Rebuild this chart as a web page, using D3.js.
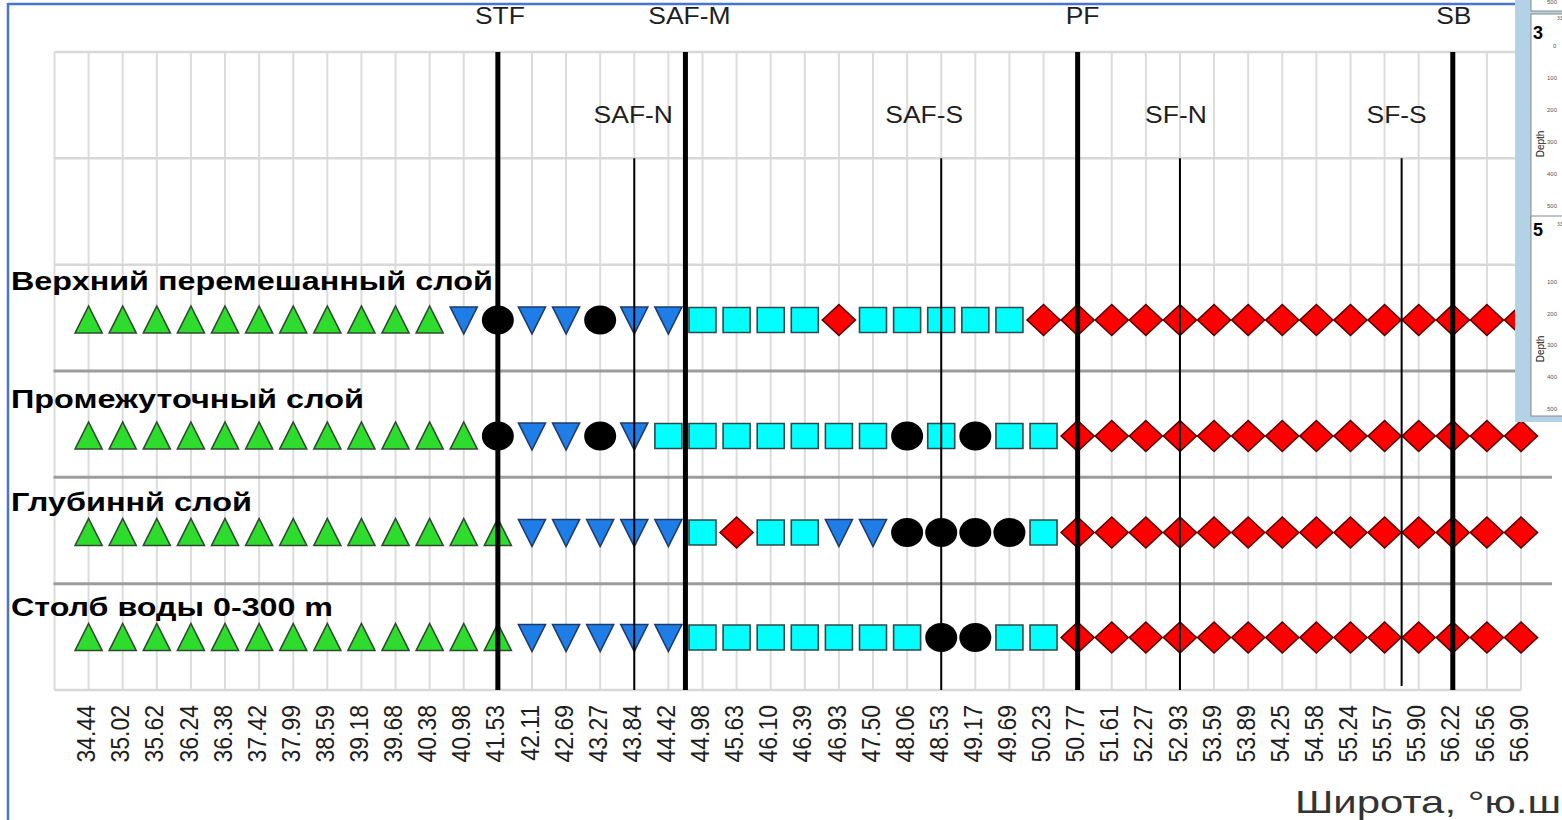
<!DOCTYPE html>
<html><head><meta charset="utf-8">
<script src="https://cdn.jsdelivr.net/npm/d3@7"></script>
<style>
body{margin:0;background:#fff;}
svg{display:block;font-family:"Liberation Sans",Arial,Helvetica,sans-serif;}
</style>
</head><body>
<svg id="chart" width="1562" height="820"></svg>
<script>
// ---------------- data ----------------
const stations = ["34.44","35.02","35.62","36.24","36.38","37.42","37.99","38.59","39.18","39.68",
  "40.38","40.98","41.53","42.11","42.69","43.27","43.84","44.42","44.98","45.63","46.10","46.39",
  "46.93","47.50","48.06","48.53","49.17","49.69","50.23","50.77","51.61","52.27","52.93","53.59",
  "53.89","54.25","54.58","55.24","55.57","55.90","56.22","56.56","56.90"];

const layers = ["Верхний перемешанный слой","Промежуточный слой","Глубиннй слой","Столб воды 0-300 m"];

// water-mass class per station: T = subtropical (green ▲), V = blue ▼, C = black ●, S = cyan ■, D = red ◆
const upperMixedLayer   = ("TTTTTTTTTTT"  + "VCVVCVV" + "SSSS" + "D" + "SSSSS" + "DDDDDDDDDDDDDDD").split("");
const intermediateLayer = ("TTTTTTTTTTTT" + "CVVCV" + "SSSSSSS" + "CSCSS" + "DDDDDDDDDDDDDD").split("");
const deepLayer         = ("TTTTTTTTTTTTT" + "VVVVV" + "SDSS" + "VV" + "CCCC" + "S" + "DDDDDDDDDDDDDD").split("");
const waterColumn0300   = ("TTTTTTTTTTTTT" + "VVVVV" + "SSSSSSS" + "CC" + "SS" + "DDDDDDDDDDDDDD").split("");
const layerValues = [upperMixedLayer, intermediateLayer, deepLayer, waterColumn0300];

const frontNames     = ["STF","SAF-N","SAF-M","SAF-S","PF","SF-N","SF-S","SB"];
const frontStationIx = [12, 16, 17.5, 25, 29, 32, 38.5, 40];
const frontMajor     = [true, false, true, false, true, false, false, true];

const axisTitle = "Широта, °ю.ш";

// ---------------- layout / style ----------------
const W = 1562, H = 820;
const svg = d3.select("#chart");
const plotTop = 52, plotBottom = 690;
const font = '"Liberation Sans",Arial,Helvetica,sans-serif';

const x = d3.scalePoint().domain(stations).range([88.6, 1521]);
const step = x.step();
const xi = d3.scaleLinear().domain([0, stations.length - 1]).range(x.range());
const yGrid = d3.scaleLinear().domain([0, 6]).range([plotTop, plotBottom]);
const yRow = d3.scaleOrdinal().domain(layers).range([320, 436, 532.5, 637.5]);
const labelBase = d3.scaleOrdinal().domain(layers).range([290, 408, 511, 616]);
const labelLen = d3.scaleOrdinal().domain(layers).range([482, 353, 241, 322]);

// ---------------- grid ----------------
const g = svg.append("g");
const gridIdx = d3.range(-1, stations.length);
g.selectAll("line.vg").data(gridIdx).join("line")
  .attr("x1", d => xi(d)).attr("x2", d => xi(d))
  .attr("y1", plotTop).attr("y2", plotBottom)
  .attr("stroke", "#dcdcdc").attr("stroke-width", 2);

g.selectAll("line.hg").data([0, 1, 2, 6]).join("line")
  .attr("x1", xi(-1)).attr("x2", xi(stations.length - 1))
  .attr("y1", d => yGrid(d)).attr("y2", d => yGrid(d))
  .attr("stroke", "#d8d8d8").attr("stroke-width", 2.5);

g.selectAll("line.sep").data([3, 4, 5]).join("line")
  .attr("x1", xi(-1) - 1).attr("x2", 1552)
  .attr("y1", d => yGrid(d)).attr("y2", d => yGrid(d))
  .attr("stroke", "#9c9c9c").attr("stroke-width", 3);

// ---------------- markers ----------------
const shapes = {
  T: {path: "M0,-14L13.5,13L-13.5,13Z", fill: "#2ddc2d", stroke: "#2f4a2f"},
  V: {path: "M-13.5,-13L13.5,-13L0,14Z", fill: "#1f7de8", stroke: "#1f3a66"},
  S: {path: "M-13.5,-12.5H13.5V12.5H-13.5Z", fill: "#00ffff", stroke: "#2f4a4a"},
  D: {path: "M0,-15.5L16.5,0L0,15.5L-16.5,0Z", fill: "#ff0000", stroke: "#5a0000"},
  C: {ellipse: true, fill: "#000000", stroke: "#000000"}
};
const pts = [];
layers.forEach((L, li) => layerValues[li].forEach((c, si) => pts.push({layer: L, st: stations[si], c})));

const mg = svg.append("g");
mg.selectAll("g.m").data(pts).join("g")
  .attr("transform", d => `translate(${x(d.st)},${yRow(d.layer)})`)
  .each(function(d) {
    const s = shapes[d.c];
    const sel = d3.select(this);
    if (s.ellipse) {
      sel.append("ellipse").attr("rx", 16).attr("ry", 14.5).attr("fill", s.fill);
    } else {
      sel.append("path").attr("d", s.path).attr("fill", s.fill)
        .attr("stroke", s.stroke).attr("stroke-width", 1.6).attr("stroke-linejoin", "miter");
    }
  });

// ---------------- fronts ----------------
const fronts = frontNames.map((n, i) => ({name: n, pos: frontStationIx[i], major: frontMajor[i]}));
const labelShift = {"STF": 2, "SAF-N": -1, "SAF-M": 4, "SAF-S": -17, "PF": 5, "SF-N": -4, "SF-S": -5, "SB": 1};
const fg = svg.append("g");
fg.selectAll("line.front").data(fronts).join("line")
  .attr("x1", d => xi(d.pos)).attr("x2", d => xi(d.pos))
  .attr("y1", d => d.major ? plotTop : yGrid(1))
  .attr("y2", d => d.name === "SF-S" ? plotBottom - 4 : plotBottom)
  .attr("stroke", "#000").attr("stroke-width", d => d.major ? 5 : 2);

fg.selectAll("text.front").data(fronts).join("text")
  .attr("transform", d => `translate(${xi(d.pos) + labelShift[d.name]},${d.major ? 24 : 123}) scale(1.15,1)`)
  .attr("text-anchor", "middle")
  .attr("font-size", 23).attr("fill", "#1e1e1e")
  .text(d => d.name);

// ---------------- row labels ----------------
svg.append("g").selectAll("text").data(layers).join("text")
  .attr("x", 11).attr("y", d => labelBase(d))
  .attr("font-size", 26).attr("font-weight", "bold").attr("fill", "#000")
  .attr("textLength", d => labelLen(d)).attr("lengthAdjust", "spacingAndGlyphs")
  .text(d => d);

// ---------------- x axis ----------------
const ax = svg.append("g").attr("transform", `translate(-3,${plotBottom})`)
  .call(d3.axisBottom(x).tickSize(0).tickPadding(0));
ax.select(".domain").remove();
ax.selectAll("text")
  .attr("y", 0).attr("x", -15).attr("dy", "0.36em")
  .attr("transform", "rotate(-90) scale(1,1.1)")
  .style("text-anchor", "end")
  .attr("font-size", 23).attr("font-family", font).attr("fill", "#1e1e1e");

svg.append("text")
  .attr("x", 1295).attr("y", 813)
  .attr("font-size", 32).attr("fill", "#333")
  .attr("textLength", 266).attr("lengthAdjust", "spacingAndGlyphs")
  .text(axisTitle);

// ---------------- slide frame ----------------
svg.append("line").attr("x1", 8).attr("x2", 8).attr("y1", 3).attr("y2", H)
  .attr("stroke", "#4a74c9").attr("stroke-width", 2.5);
svg.append("line").attr("x1", 8).attr("x2", 1515).attr("y1", 4).attr("y2", 4)
  .attr("stroke", "#4a74c9").attr("stroke-width", 2.5);

// ---------------- overlapping side panel (cropped) ----------------
const sp = svg.append("g");
sp.append("rect").attr("x", 1515).attr("y", 0).attr("width", 47).attr("height", 422).attr("fill", "#b3d2e6");
[[ -2, 13], [14, 214], [216, 423 - 216 - 7]].forEach(([y0, h]) => {
  sp.append("rect").attr("x", 1531).attr("y", y0).attr("width", 40).attr("height", h)
    .attr("fill", "#fff").attr("stroke", "#8a8a8a").attr("stroke-width", 1);
});
sp.append("text").attr("x", 1533).attr("y", 39).attr("font-size", 18).attr("font-weight", "bold").text("3");
sp.append("text").attr("x", 1533).attr("y", 236).attr("font-size", 18).attr("font-weight", "bold").text("5");
const smallTicks = [["500", 4], ["100", 80], ["200", 112], ["300", 144], ["400", 176], ["500", 208],
                    ["100", 284], ["200", 316], ["300", 347], ["400", 379], ["500", 411]];
sp.selectAll("text.st").data(smallTicks).join("text")
  .attr("x", 1557).attr("y", d => d[1]).attr("text-anchor", "end")
  .attr("font-size", 6).attr("fill", "#555").text(d => d[0]);
[[144], [349]].forEach(([yy]) => {
  sp.append("text").attr("transform", `translate(1544,${yy}) rotate(-90)`)
    .attr("text-anchor", "middle").attr("font-size", 10).attr("fill", "#222").text("Depth");
});
sp.append("text").attr("x", 1553).attr("y", 48).attr("font-size", 6).attr("fill", "#555").text("0");
sp.append("text").attr("x", 1557).attr("y", 20).attr("font-size", 5).attr("fill", "#555").text("33");
sp.append("text").attr("x", 1557).attr("y", 226).attr("font-size", 5).attr("fill", "#555").text("33");
</script>
</body></html>
